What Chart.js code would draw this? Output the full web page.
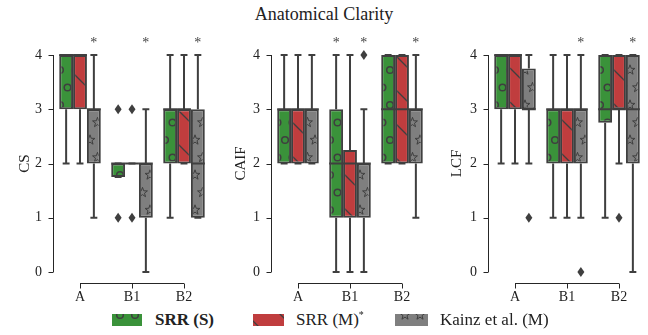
<!DOCTYPE html>
<html>
<head>
<meta charset="utf-8">
<script src="https://cdn.jsdelivr.net/npm/chart.js@4"></script>
<style>
    body { margin: 0; background: #fff; width: 648px; height: 335px; position: relative; overflow: hidden;
           font-family: "Liberation Serif", serif; color: #222; }
    .panel { position: absolute; top: 0; width: 216px; height: 310px; }
    #title { position: absolute; top: 4px; left: 0; width: 648px; text-align: center; font-size: 18px; }
    .leg { position: absolute; top: 310px; font-size: 17px; line-height: 20px; white-space: nowrap;
           font-family: "Liberation Serif", serif; }
    .leg b { font-family: "Liberation Serif", serif; font-weight: bold; }
    .leg sup { font-size: 10px; vertical-align: baseline; position: relative; top: -7px; line-height: 0; }
    canvas.sw { position: absolute; top: 314px; }
</style>
</head>
<body>
<div id="title">Anatomical Clarity</div>
<div class="panel" style="left:0px"><canvas id="cs"></canvas></div>
<div class="panel" style="left:216px"><canvas id="caif"></canvas></div>
<div class="panel" style="left:432px"><canvas id="lcf"></canvas></div>

<canvas class="sw" id="sw0" width="30" height="12" style="left:112px"></canvas>
<div class="leg" style="left:155px"><b>SRR (S)</b></div>
<canvas class="sw" id="sw1" width="31" height="12" style="left:253px"></canvas>
<div class="leg" style="left:296px">SRR (M)<sup>*</sup></div>
<canvas class="sw" id="sw2" width="33" height="12" style="left:395px"></canvas>
<div class="leg" style="left:440px">Kainz et al. (M)</div>

<script>
const categories = ['A', 'B1', 'B2'];
const methods    = ['SRR (S)', 'SRR (M)*', 'Kainz et al. (M)'];
const yTicks     = [0, 1, 2, 3, 4];

// boxes: [low whisker, q1, median, q3, high whisker] for A, B1, B2
const csSrrS    = [[2, 3, 4, 4, 4], [1.75, 1.75, 2, 2, 2], [1, 2, 3, 3, 4]];
const csSrrM    = [[2, 3, 4, 4, 4], [2, 2, 2, 2, 2],       [2, 2, 3, 3, 4]];
const csKainz   = [[1, 2, 3, 3, 4], [0, 1, 2, 2, 3],       [1, 1, 2, 3, 4]];
const caifSrrS  = [[2, 2, 3, 3, 4], [0, 1, 2, 3, 4],       [2, 2, 3, 4, 4]];
const caifSrrM  = [[2, 2, 3, 3, 4], [0, 1, 2, 2.25, 4],    [2, 2, 3, 4, 4]];
const caifKainz = [[2, 2, 3, 3, 4], [0, 1, 2, 2, 3],       [1, 2, 3, 3, 4]];
const lcfSrrS   = [[2, 3, 4, 4, 4], [1, 2, 3, 3, 4],       [1, 2.75, 3, 4, 4]];
const lcfSrrM   = [[2, 3, 4, 4, 4], [1, 2, 3, 3, 4],       [2, 3, 3, 4, 4]];
const lcfKainz  = [[2, 3, 3, 3.75, 4], [1, 2, 3, 3, 4],    [0, 2, 3, 4, 4]];

// outliers per method, per category
const csOutliers   = [[[], [1, 3], []], [[], [1, 3], []], [[], [], []]];
const caifOutliers = [[[], [], []],     [[], [], []],     [[], [4], []]];
const lcfOutliers  = [[[], [], []],     [[], [], [1]],    [[1], [0], []]];

// significance marks: [category index, method index]
const csStars   = [[0, 2], [1, 2], [2, 2]];
const caifStars = [[1, 0], [1, 2], [2, 2]];
const lcfStars  = [[1, 2], [2, 2]];

const COLORS  = ['#3a923a', '#c03d3e', '#7f7f7f'];
const HATCHES = ['circle', 'line', 'star'];
const EDGE    = '#3f3f3f';
const AXIS    = '#262626';
const FONT    = '"Liberation Serif", serif';

function hatchTile(color, kind) {
    const c = document.createElement('canvas');
    const w = kind === 'line' ? 34 : 15;
    const h = kind === 'line' ? 34 : 35;
    c.width = w; c.height = h;
    const g = c.getContext('2d');
    g.fillStyle = color;
    g.fillRect(0, 0, w, h);
    g.strokeStyle = EDGE;
    if (kind === 'line') {
        g.lineWidth = 1.3;
        for (const k of [-1, 0, 1]) {
            g.beginPath(); g.moveTo(k * w, 0); g.lineTo(k * w + w, h); g.stroke();
        }
        return c;
    }
    const pts = [[0, 0], [w, 0], [0, h], [w, h], [w / 2, h / 2]];
    for (const [px, py] of pts) {
        g.beginPath();
        if (kind === 'circle') {
            g.lineWidth = 1.5;
            g.arc(px, py, 3.3, 0, Math.PI * 2);
        } else {
            g.lineWidth = 1;
            for (let i = 0; i < 10; i++) {
                const r = i % 2 ? 2.1 : 5.2;
                const a = -Math.PI / 2 + i * Math.PI / 5;
                const fx = px + r * Math.cos(a), fy = py + r * Math.sin(a);
                i ? g.lineTo(fx, fy) : g.moveTo(fx, fy);
            }
            g.closePath();
        }
        g.stroke();
    }
    return c;
}

function makePattern(ctx, m, offX, offY) {
    const p = ctx.createPattern(hatchTile(COLORS[m], HATCHES[m]), 'repeat');
    p.setTransform(new DOMMatrix([1, 0, 0, 1, -offX, -offY]));
    return p;
}

function diamond(ctx, x, y) {
    ctx.beginPath();
    ctx.moveTo(x, y - 5); ctx.lineTo(x + 3.5, y); ctx.lineTo(x, y + 5); ctx.lineTo(x - 3.5, y);
    ctx.closePath(); ctx.fill();
}

const boxPlugin = {
    id: 'box',
    beforeDatasetsDraw(chart) {
        const { ctx, scales: { y } } = chart;
        const stats = chart.options.plugins.box.stats;
        ctx.save();
        ctx.strokeStyle = EDGE; ctx.lineWidth = 2; ctx.lineCap = 'butt';
        stats.forEach((boxes, i) => {
            chart.getDatasetMeta(i).data.forEach((el, j) => {
                const [lo, q1, , q3, hi] = boxes[j];
                const x = el.x, cw = el.width / 4;
                ctx.beginPath();
                ctx.moveTo(x, y.getPixelForValue(q1)); ctx.lineTo(x, y.getPixelForValue(lo));
                ctx.moveTo(x, y.getPixelForValue(q3)); ctx.lineTo(x, y.getPixelForValue(hi));
                ctx.moveTo(x - cw, y.getPixelForValue(lo)); ctx.lineTo(x + cw, y.getPixelForValue(lo));
                ctx.moveTo(x - cw, y.getPixelForValue(hi)); ctx.lineTo(x + cw, y.getPixelForValue(hi));
                ctx.stroke();
            });
        });
        ctx.restore();
    },
    afterDatasetsDraw(chart) {
        const { ctx, chartArea, scales: { x: xs, y } } = chart;
        const { stats, outliers, stars } = chart.options.plugins.box;
        ctx.save();
        ctx.strokeStyle = EDGE; ctx.fillStyle = EDGE; ctx.lineWidth = 2;
        stats.forEach((boxes, i) => {
            chart.getDatasetMeta(i).data.forEach((el, j) => {
                const my = y.getPixelForValue(boxes[j][2]);
                ctx.beginPath();
                ctx.moveTo(el.x - el.width / 2, my); ctx.lineTo(el.x + el.width / 2, my);
                ctx.stroke();
                outliers[i][j].forEach(v => diamond(ctx, el.x, y.getPixelForValue(v)));
            });
        });
        // significance marks
        ctx.fillStyle = '#444';
        ctx.font = '14px ' + FONT;
        ctx.textAlign = 'center';
        ctx.textBaseline = 'alphabetic';
        stars.forEach(([c, m]) => {
            const el = chart.getDatasetMeta(m).data[c];
            ctx.fillText('*', el.x, chartArea.top - 8);
        });
        // trimmed spines
        ctx.strokeStyle = AXIS; ctx.lineWidth = 1;
        const lx = Math.round(chartArea.left) - 0.5;
        ctx.beginPath();
        ctx.moveTo(lx, y.getPixelForValue(0)); ctx.lineTo(lx, y.getPixelForValue(4));
        yTicks.forEach(t => {
            const ty = Math.round(y.getPixelForValue(t)) + 0.5;
            ctx.moveTo(lx - 5, ty); ctx.lineTo(lx, ty);
        });
        const by = Math.round(chartArea.bottom) + 11.5;
        ctx.moveTo(xs.getPixelForValue(0), by); ctx.lineTo(xs.getPixelForValue(2), by);
        categories.forEach((_, k) => {
            const tx = Math.round(xs.getPixelForValue(k)) + 0.5;
            ctx.moveTo(tx, by); ctx.lineTo(tx, by + 5);
        });
        ctx.stroke();
        ctx.restore();
    },
};

function makePanel(id, left, yTitle, yWidth, rightPad, stats, outliers, stars) {
    const canvas = document.getElementById(id);
    const ctx = canvas.getContext('2d');
    new Chart(canvas, {
        type: 'bar',
        data: {
            labels: categories,
            datasets: stats.map((boxes, m) => ({
                label: methods[m],
                data: boxes.map(b => [b[1], b[3]]),
                backgroundColor: makePattern(ctx, m, left, 0),
                borderColor: EDGE,
                borderWidth: 2,
                borderSkipped: false,
                categoryPercentage: 0.8,
                barPercentage: 1.0,
            })),
        },
        options: {
            responsive: true,
            maintainAspectRatio: false,
            animation: false,
            events: [],
            layout: { padding: { top: 55, right: rightPad, left: 0, bottom: 0 } },
            plugins: {
                legend: { display: false },
                tooltip: { enabled: false },
                box: { stats, outliers, stars },
            },
            scales: {
                x: {
                    offset: true,
                    grid: { display: false, drawTicks: false },
                    border: { display: false },
                    ticks: { padding: 17, color: '#222', font: { family: FONT, size: 14 } },
                    afterFit: s => { s.height = 38; },
                },
                y: {
                    min: 0, max: 4,
                    afterBuildTicks: s => { s.ticks = yTicks.map(v => ({ value: v })); },
                    grid: { display: false, drawTicks: false },
                    border: { display: false },
                    ticks: { padding: 12, color: '#222', font: { family: FONT, size: 14 } },
                    title: { display: true, text: yTitle, color: '#222', padding: { top: 16, bottom: 0 },
                             font: { family: FONT, size: 15 } },
                    afterFit: s => { s.width = yWidth; },
                },
            },
        },
        plugins: [boxPlugin],
    });
}

makePanel('cs',   0,   'CS',   54, 6, [csSrrS, csSrrM, csKainz],       csOutliers,   csStars);
makePanel('caif', 216, 'CAIF', 56, 4, [caifSrrS, caifSrrM, caifKainz], caifOutliers, caifStars);
makePanel('lcf',  432, 'LCF',  57, 3, [lcfSrrS, lcfSrrM, lcfKainz],    lcfOutliers,  lcfStars);

// legend swatches
[112, 253, 395].forEach((left, m) => {
    const c = document.getElementById('sw' + m);
    const g = c.getContext('2d');
    g.fillStyle = makePattern(g, m, left, 314);
    g.fillRect(0, 0, c.width, c.height);
});
</script>
</body>
</html>
